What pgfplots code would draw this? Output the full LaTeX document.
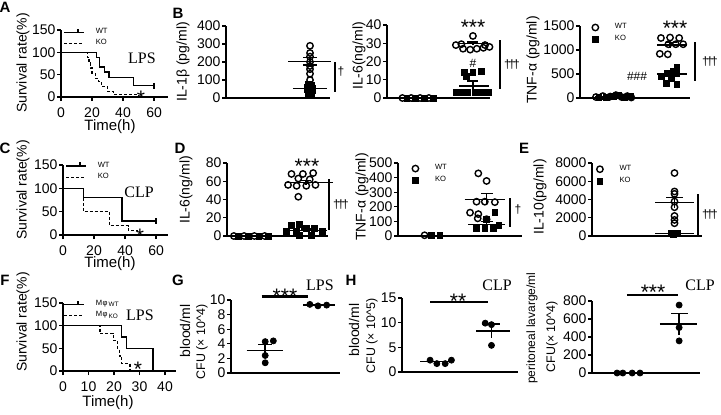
\documentclass[border=0pt]{standalone}
\usepackage{pgfplots}
\pgfplotsset{compat=1.18}
\usepackage{fontspec}
\setmainfont{Liberation Sans}
\newfontfamily\serif{Liberation Serif}
\newcommand\fs[1]{\fontsize{#1}{#1}\selectfont}
\newcommand\dg{\symbol{"2020}}
\newcommand\ddd{\dg\kern-1.1pt\dg\kern-1.1pt\dg}
\pgfplotsset{
  gp/.style={scale only axis, axis lines=left, axis line style={-, line width=0.65pt},
    tick style={black, line width=0.65pt}, tick align=outside, major tick length=2pt,
    ymin=0, clip=false, tick label style={font=\fs{7}}, yticklabel style={inner sep=0.6pt},
    /pgf/number format/assume math mode=true, /pgf/number format/1000 sep={},
    scaled y ticks=false, scaled x ticks=false},
  cat/.style 2 args={gp, xtick={1,2}, xticklabels={#1,#2}, xmajorticks=false, xticklabel style={yshift=-1.2pt}},
  wt/.style={only marks, mark=o, mark size=1.6pt, mark options={line width=0.7pt, black, solid}},
  ko/.style={only marks, mark=square*, mark size=1.45pt, mark options={black, solid}},
  dot/.style={only marks, mark=*, mark size=1.5pt, mark options={black}},
  ml/.style={black, line width=0.75pt, forget plot, unbounded coords=jump},
  mleg/.style={legend style={at={#1}, anchor=north west, draw=none, fill=none, font=\fs{3.8}, inner sep=0pt, row sep=0.6pt, nodes={inner sep=0.6pt}, cells={anchor=west}}, legend image code/.code={\path (0pt,0pt) (12pt,0pt); \draw[mark repeat=2,mark phase=2,##1] plot coordinates {(0pt,0pt) (3pt,0pt) (6pt,0pt)};}},
  sleg/.style={legend style={at={#1}, anchor=north west, draw=none, fill=none, font=\fs{3.8}, inner sep=0pt, row sep=0.4pt, nodes={inner sep=0.6pt}, cells={anchor=west}}},
  sv/.style={black, line width=0.6pt, const plot},
  svwt/.style={sv, legend image code/.code={\path (0pt,0pt) (15pt,0pt); \draw[black,line width=0.6pt] (0pt,0pt)--(10pt,0pt); \draw[black,line width=0.6pt] (7pt,0pt)--(7pt,1.8pt);}},
  svko/.style={sv, dash pattern=on 1.5pt off 1pt, legend image code/.code={\path (0pt,0pt) (15pt,0pt); \draw[black,line width=0.6pt,dash pattern=on 1.5pt off 1pt] (0pt,0pt)--(10pt,0pt);}},
}
\begin{document}
\begin{tikzpicture}[x=0.5pt,y=0.5pt]
\useasboundingbox (0,0) rectangle (721,414);

% ---------- A ----------
\begin{axis}[gp, at={(30.5pt,158.5pt)}, anchor=south west, width=53.5pt, height=33.5pt,
  xmin=0, xmax=69, ymax=150, xtick={0,20,40,60}, ytick={0,50,100,150}, sleg={(axis cs:1.3,158)}]
\addplot[svwt, mark=|, mark indices={7}, mark size=1.5pt] coordinates {(0,100)(23,89)(25,67)(28,56)(31,44)(47,25)(60,25)};
\addlegendentry{WT}
\addplot[svko] coordinates {(0,100)(17,88)(18,76)(19,65)(20,53)(22,41)(24,35)(26,24)(30,12)(34,6)(50,0)};
\addlegendentry{KO}
\end{axis}

% ---------- B1 ----------
\begin{axis}[cat={CON}{LPS}, at={(113pt,158pt)}, anchor=south west, width=52pt, height=36pt,
  xmin=0.53, xmax=2.35, ymax=400, ytick={0,100,200,300,400}]
\addplot[wt] coordinates {(2,290)(2,250)(2,230)(2,200)(2,178)(2,160)(2,135)(2,100)};
\addplot[ko] coordinates {(1.97,75)(2.03,68)(1.96,60)(2.04,55)(2,50)(1.96,45)(2.04,40)(2,30)(1.97,22)(2.03,15)};
\addplot[ml] coordinates {(1.62,204)(2.36,204)(2,nan)(2,182)(2,226)(2,nan)(1.88,226)(2.12,226)(2,nan)(1.88,182)(2.12,182)};
\addplot[ml] coordinates {(1.7,53)(2.3,53)(2,nan)(2,43)(2,63)(2,nan)(1.9,63)(2.1,63)(2,nan)(1.9,43)(2.1,43)};
\end{axis}

% ---------- B2 ----------
\begin{axis}[cat={CON}{LPS}, at={(193.5pt,158pt)}, anchor=south west, width=51.5pt, height=36.5pt,
  xmin=0.44, xmax=2.31, ymax=40, ytick={0,10,20,30,40}]
\addplot[wt] coordinates {(0.72,0)(0.88,0)(1.04,0)(1.2,0)(2.0,34)(1.69,29)(1.79,29.5)(2.22,29)(2.30,28)(1.82,27)(1.95,26.5)(2.07,27)(2.19,27.5)};
\addplot[ko] coordinates {(0.8,0)(0.96,0)(1.12,0)(1.28,0)(1.85,14)(2.0,14)(2.16,14.5)(1.88,12)(1.69,3)(1.79,3)(1.91,3)(2.04,3)(2.16,3)(2.28,3)};
\addplot[ml] coordinates {(0.7,0)(1.3,0)};
\addplot[ml] coordinates {(1.75,29.9)(2.25,29.9)(2,nan)(2,29)(2,30.8)(2,nan)(1.9,30.8)(2.1,30.8)};
\addplot[ml] coordinates {(1.75,6.6)(2.3,6.6)(2,nan)(2,4.2)(2,9.2)(2,nan)(1.9,9.2)(2.1,9.2)};
\end{axis}

% ---------- B3 ----------
\begin{axis}[cat={CON}{LPS}, at={(290pt,158pt)}, anchor=south west, width=55pt, height=36pt,
  xmin=0.42, xmax=2.35, ymax=1500, ytick={0,500,1000,1500}, mleg={(axis cs:0.57,1588)}]
\addplot[wt] coordinates {(0.7,20)(0.82,40)(0.95,30)(1.05,60)(1.15,20)(1.25,40)(1.32,10)(1.84,1250)(2.0,1260)(2.16,1250)(1.97,1120)(2.1,1120)(2.23,1120)(1.82,920)(1.96,910)};
\addlegendentry{WT}
\addplot[ko] coordinates {(0.75,10)(0.88,20)(1.0,30)(1.1,50)(1.2,10)(1.3,30)(2.12,650)(2.05,560)(1.95,520)(2.12,510)(1.85,450)(2.02,410)(1.94,300)(2.12,290)};
\addlegendentry{KO}
\addplot[ml] coordinates {(0.68,30)(1.33,30)};
\addplot[ml] coordinates {(1.77,1102)(2.29,1102)(2,nan)(2,1052)(2,1152)(2,nan)(1.93,1152)(2.12,1152)};
\addplot[ml] coordinates {(1.77,496)(2.29,496)(2,nan)(2,451)(2,541)(2,nan)(1.93,541)(2.12,541)};
\end{axis}

% ---------- C ----------
\begin{axis}[gp, at={(31.5pt,89.5pt)}, anchor=south west, width=52.5pt, height=35pt,
  xmin=0, xmax=67.7, ymax=150, xtick={0,20,40,60}, ytick={0,50,100,150}, sleg={(axis cs:1.3,160)}]
\addplot[svwt, mark=|, mark indices={4}, mark size=1.5pt] coordinates {(0,100)(13,80)(38,30)(60,30)};
\addlegendentry{WT}
\addplot[svko] coordinates {(0,100)(13,50)(30,20)(42,10)(48,0)};
\addlegendentry{KO}
\end{axis}

% ---------- D1 ----------
\begin{axis}[cat={CON}{CLP}, at={(113.5pt,89pt)}, anchor=south west, width=50.5pt, height=36.5pt,
  xmin=0.6, xmax=2.37, ymax=80, ytick={0,20,40,60,80}]
\addplot[wt] coordinates {(0.72,0)(0.9,0)(1.08,0)(1.26,0)(1.73,68)(1.93,68)(2.11,69)(1.85,63)(2.05,62)(1.67,56)(1.82,55)(1.99,55)(2.15,56)(1.85,43)};
\addplot[ko] coordinates {(0.8,0)(0.98,0)(1.16,0)(1.32,0)(1.73,12)(1.87,12.5)(1.99,8)(2.13,8)(1.64,5)(1.82,5)(2.27,5)(1.87,1)(2.08,1)};
\addplot[ml] coordinates {(0.7,0)(1.32,0)};
\addplot[ml] coordinates {(1.65,58.4)(2.45,58.4)(1.98,nan)(1.98,56)(1.98,61)(1.98,nan)(1.88,61)(2.08,61)};
\addplot[ml] coordinates {(1.65,6)(2.35,6)(2,nan)(2,4.5)(2,7.5)(2,nan)(1.9,7.5)(2.1,7.5)};
\end{axis}

% ---------- D2 ----------
\begin{axis}[cat={CON}{CLP}, at={(199pt,89pt)}, anchor=south west, width=62pt, height=36.5pt,
  xmin=0.58, xmax=2.68, ymax=500, ytick={0,100,200,300,400,500}, mleg={(axis cs:0.76,501)}]
\addplot[wt] coordinates {(1.03,5)(1.94,429)(2.08,377)(1.91,235)(2.05,235)(2.22,232)(1.80,160)(1.94,150)(1.93,121)(2.08,115)};
\addlegendentry{WT}
\addplot[ko] coordinates {(1.15,4)(1.29,4)(2.22,160)(2.08,114)(2.29,75)(1.91,53)(2.05,53)(2.19,53)};
\addlegendentry{KO}
\addplot[ml] coordinates {(0.83,4)(1.42,4)};
\addplot[ml] coordinates {(1.71,251)(2.39,251)(2.08,nan)(2.08,210)(2.08,292)(2.08,nan)(1.99,292)(2.19,292)};
\addplot[ml] coordinates {(1.77,80)(2.39,80)(2.08,nan)(2.08,62)(2.08,98)(2.08,nan)(1.99,98)(2.19,98)};
\end{axis}

% ---------- E ----------
\begin{axis}[cat={CON}{LPS}, at={(296pt,89pt)}, anchor=south west, width=55pt, height=36.5pt,
  xmin=0.45, xmax=2.45, ymax=8000, ytick={0,2000,4000,6000,8000}, mleg={(axis cs:0.47,7945)}]
\addplot[wt] coordinates {(1.95,6900)(1.95,4880)(1.95,4620)(1.95,3780)(1.95,3150)(1.95,2200)(1.95,1760)(1.95,1400)};
\addlegendentry{WT}
\addplot[ko] coordinates {(1.9,300)(1.95,250)(2.0,300)(1.93,200)(1.98,280)};
\addlegendentry{KO}
\addplot[ml] coordinates {(1.6,3670)(2.3,3670)(1.95,nan)(1.95,3120)(1.95,4220)(1.95,nan)(1.8,4220)(2.1,4220)};
\addplot[ml] coordinates {(1.6,300)(2.3,300)};
\end{axis}

% ---------- F ----------
\begin{axis}[gp, at={(31.5pt,21.5pt)}, anchor=south west, width=56.5pt, height=34pt,
  xmin=0, xmax=44.3, ymax=150, xtick={0,10,20,30,40}, ytick={0,50,100,150}, sleg={(axis cs:0,160)}]
\addplot[svwt] coordinates {(0,100)(23,75)(25,50)(35.3,0)};
\addlegendentry{M\kern0.2pt φ\,\raisebox{-0.35ex}{\fs{3.2}WT}}
\addplot[svko] coordinates {(0,100)(14.5,83)(19.7,67)(21.3,50)(22,33)(23,17)(26.3,0)};
\addlegendentry{M\kern0.2pt φ\,\raisebox{-0.35ex}{\fs{3.2}KO}}
\end{axis}

% ---------- G ----------
\begin{axis}[cat={WT}{KO}, at={(115.5pt,20.5pt)}, anchor=south west, width=54.5pt, height=36.5pt,
  xmin=0.5, xmax=2.38, ymax=10, ytick={0,2,4,6,8,10}]
\addplot[dot] coordinates {(1.09,4.3)(1.23,4.4)(1.09,2.4)(1.09,1.4)(1.86,9.4)(2.0,9.2)(2.15,9.3)};
\addplot[ml] coordinates {(0.77,3.1)(1.4,3.1)(1.09,nan)(1.09,2.3)(1.09,3.9)(1.09,nan)(0.97,3.9)(1.2,3.9)};
\addplot[ml] coordinates {(1.75,9.3)(2.3,9.3)};
\addplot[black, line width=1.2pt, forget plot] coordinates {(1.03,10.5)(1.83,10.5)};
\end{axis}

% ---------- H1 ----------
\begin{axis}[cat={WT}{KO}, at={(201pt,21pt)}, anchor=south west, width=58pt, height=37pt,
  xmin=0.27, xmax=2.5, ymax=15, ytick={0,5,10,15}]
\addplot[dot] coordinates {(0.81,2.4)(0.94,1.7)(1.1,1.7)(1.22,2.4)(1.87,9.9)(1.99,9.6)(1.99,5.4)};
\addplot[ml] coordinates {(0.62,2.1)(1.25,2.1)};
\addplot[ml] coordinates {(1.7,8.3)(2.35,8.3)(1.99,nan)(1.99,6.9)(1.99,9.7)(1.99,nan)(1.8,9.7)(2.15,9.7)};
\addplot[black, line width=1.2pt, forget plot] coordinates {(0.81,14.2)(1.92,14.2)};
\end{axis}

% ---------- H2 ----------
\begin{axis}[cat={WT}{KO}, at={(296pt,20.5pt)}, anchor=south west, width=54pt, height=36pt,
  xmin=0.33, xmax=2.4, ymax=800, ytick={0,200,400,600,800}]
\addplot[dot] coordinates {(0.81,0)(0.92,0)(1.1,0)(1.25,0)(2,755)(2,505)(2,357)};
\addplot[ml] coordinates {(0.7,0)(1.3,0)};
\addplot[ml] coordinates {(1.63,543)(2.34,543)(2,nan)(2,423)(2,663)(2,nan)(1.85,663)(2.17,663)};
\addplot[black, line width=1.2pt, forget plot] coordinates {(1.0,866)(1.98,866)};
\end{axis}

% ---------- panel letters ----------
\begin{scope}[every node/.style={font=\fs{7.5}\bfseries, inner sep=0pt}]
\node at (5,414-7) {A};
\node at (178,414-13) {B};
\node at (5,414-148) {C};
\node at (180,414-148) {D};
\node at (524,414-148) {E};
\node at (5,414-280) {F};
\node at (178,414-280) {G};
\node at (351,414-280) {H};
\end{scope}

% ---------- axis titles ----------
\begin{scope}[every node/.style={font=\fs{7}, inner sep=0pt, rotate=90}]
\node at (23,414-63) {Survival rate(\%)};
\node at (23,414-190) {Survival rate(\%)};
\node at (23,414-322) {Survival rate(\%)};
\node at (183,414-62) {IL-1β (pg/ml)};
\node at (359,414-56) {IL-6(ng/ml)};
\node at (533,414-60) {TNF-α (pg/ml)};
\node at (186,414-190) {IL-6(ng/ml)};
\node at (362,414-197) {TNF-α (pg/ml)};
\node at (540,414-197) {IL-10(pg/ml)};
\node at (185,414-331) {blood/ml};
\node[font=\fs{6.2}] at (202,414-342) {CFU (× 10\textasciicircum 4)};
\node at (354,414-330) {blood/ml};
\node[font=\fs{6.2}] at (372,414-336) {CFU (× 10\textasciicircum 5)};
\node[font=\fs{6}] at (532,414-328) {peritoneal lavarge/ml};
\node[font=\fs{6.2}] at (552,414-337) {CFU(× 10\textasciicircum 4)};
\end{scope}
\begin{scope}[every node/.style={font=\fs{7.5}, inner sep=0pt}]
\node at (110,414-127) {Time(h)};
\node at (110,414-264) {Time(h)};
\node at (108,414-403) {Time(h)};
\end{scope}

% ---------- LPS / CLP ----------
\begin{scope}[every node/.style={font=\serif\fs{8}, inner sep=0pt}]
\node at (142,414-58) {LPS};
\node at (139,414-192) {CLP};
\node at (140,414-315) {LPS};
\node at (320,414-285) {LPS};
\node at (497,414-285) {CLP};
\node at (700,414-285) {CLP};
\end{scope}

% ---------- significance ----------
\begin{scope}[every node/.style={font=\fs{10.5}, inner sep=0pt, anchor=base}]
\node at (141,414-105) {*};
\node at (140,414-243) {*};
\node at (138,414-376) {*};
\node at (473,414-34) {***};
\node at (675,414-35) {***};
\node at (307,414-173) {***};
\node at (285,414-303) {***};
\node at (458,414-308) {**};
\node at (653,414-299) {***};
\end{scope}
\begin{scope}[line width=1pt]
\draw (335,414-62)--(335,414-92);
\draw (500,414-40)--(500,414-89);
\draw (695,414-42)--(695,414-81);
\draw (329,414-179)--(329,414-230);
\draw (510,414-198)--(510,414-227);
\draw (698,414-194)--(698,414-237);
\end{scope}
\begin{scope}[every node/.style={font=\fs{6}, inner sep=0pt}]
\node at (341,414-72) {\dg};
\node at (512,414-65) {\ddd};
\node at (710,414-62) {\ddd};
\node at (341,414-205) {\ddd};
\node at (518,414-210) {\dg};
\node at (710,414-215) {\ddd};
\node at (473,414-63) {\#};
\node at (637,414-76) {\#\#\#};
\end{scope}
\end{tikzpicture}
\end{document}
